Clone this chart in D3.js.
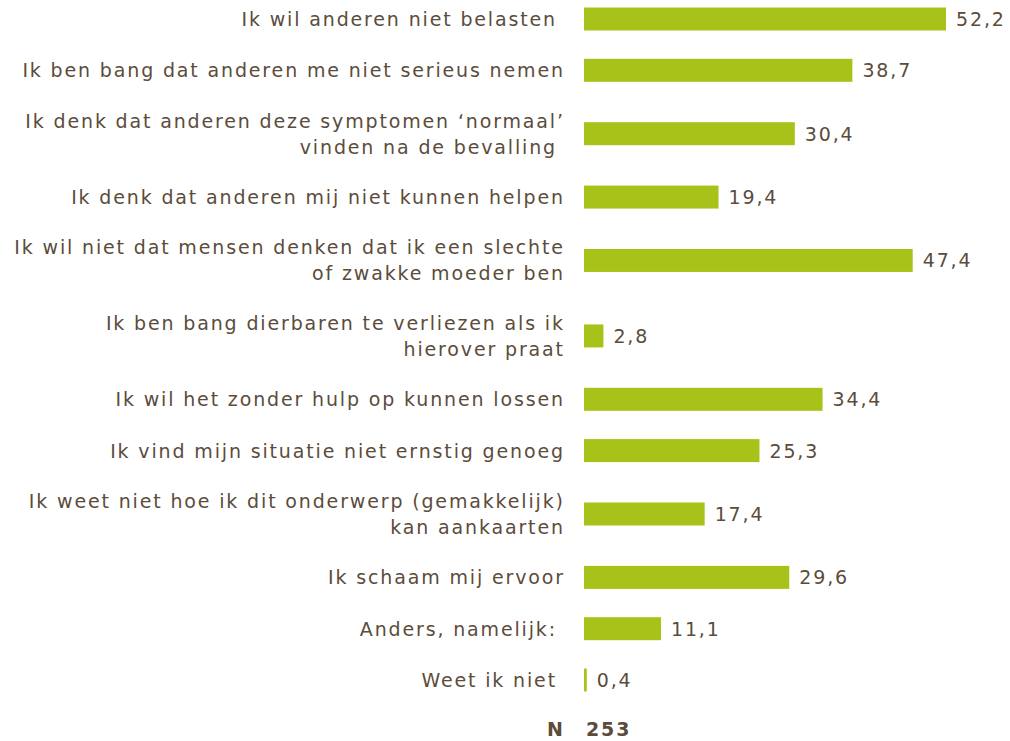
<!DOCTYPE html>
<html><head><meta charset="utf-8">
<script src="https://cdn.jsdelivr.net/npm/d3@7"></script>
<style>body{margin:0;background:#fff}svg{display:block}</style>
</head><body>
<svg id="c" width="1010" height="741"></svg>
<script>
const categories = [
  ["Ik wil anderen niet belasten "],
  ["Ik ben bang dat anderen me niet serieus nemen"],
  ["Ik denk dat anderen deze symptomen \u2018normaal\u2019", "vinden na de bevalling "],
  ["Ik denk dat anderen mij niet kunnen helpen"],
  ["Ik wil niet dat mensen denken dat ik een slechte", "of zwakke moeder ben"],
  ["Ik ben bang dierbaren te verliezen als ik", "hierover praat"],
  ["Ik wil het zonder hulp op kunnen lossen"],
  ["Ik vind mijn situatie niet ernstig genoeg"],
  ["Ik weet niet hoe ik dit onderwerp (gemakkelijk)", "kan aankaarten"],
  ["Ik schaam mij ervoor"],
  ["Anders, namelijk: "],
  ["Weet ik niet "]
];
const values = [52.2, 38.7, 30.4, 19.4, 47.4, 2.8, 34.4, 25.3, 17.4, 29.6, 11.1, 0.4];
const valueLabels = ["52,2","38,7","30,4","19,4","47,4","2,8","34,4","25,3","17,4","29,6","11,1","0,4"];
const nLabel = "N";
const nValue = "253";

const W = 1010, H = 741;
const textColor = "#5b4c3c", barColor = "#a9c219";
const font = "DejaVu Sans, Verdana, sans-serif";
const fs = 19, ls = 1.85;

const svg = d3.select("#c");
const x = d3.scaleLinear().domain([0, 52.2]).range([584, 946]);

const slot = d => d.length === 1 ? 1 : 75/51;
let acc = 0;
const centers = categories.map(c => { const s = slot(c); const cc = acc + s/2; acc += s; return cc; });
const y = d3.scaleLinear().domain([0.5, centers[centers.length-1]]).range([19, 680]);

const bh = 23;
const g = svg.append("g");
const rows = g.selectAll("g.row").data(categories).join("g").attr("class","row");

rows.append("rect")
  .attr("x", x(0))
  .attr("y", (d,i) => y(centers[i]) - bh/2)
  .attr("width", (d,i) => x(values[i]) - x(0))
  .attr("height", bh)
  .attr("fill", barColor);

rows.append("text")
  .attr("x", 563)
  .attr("y", (d,i) => y(centers[i]))
  .attr("text-anchor","end")
  .attr("font-family", font).attr("font-size", fs).attr("fill", textColor)
  .attr("letter-spacing", ls)
  .style("white-space","pre")
  .each(function(d){
    const t = d3.select(this);
    const lh = 26;
    const off = -(d.length-1)*lh/2;
    d.forEach((line,j) => {
      t.append("tspan").attr("x",563 + ls).attr("dy", j===0 ? off + 7 : lh).text(line);
    });
  });

rows.append("text")
  .attr("x", (d,i) => x(values[i]) + 10)
  .attr("y", (d,i) => y(centers[i]) + 7)
  .attr("font-family", font).attr("font-size", fs).attr("fill", textColor)
  .attr("letter-spacing", ls)
  .text((d,i) => valueLabels[i]);

svg.append("text").attr("x", 563 + ls).attr("y", 736).attr("text-anchor","end")
  .attr("font-family", font).attr("font-size", fs).attr("font-weight","bold").attr("fill", textColor)
  .attr("letter-spacing", ls).text(nLabel);
svg.append("text").attr("x", 586).attr("y", 736)
  .attr("font-family", font).attr("font-size", fs).attr("font-weight","bold").attr("fill", textColor)
  .attr("letter-spacing", ls).text(nValue);
</script>
</body></html>
